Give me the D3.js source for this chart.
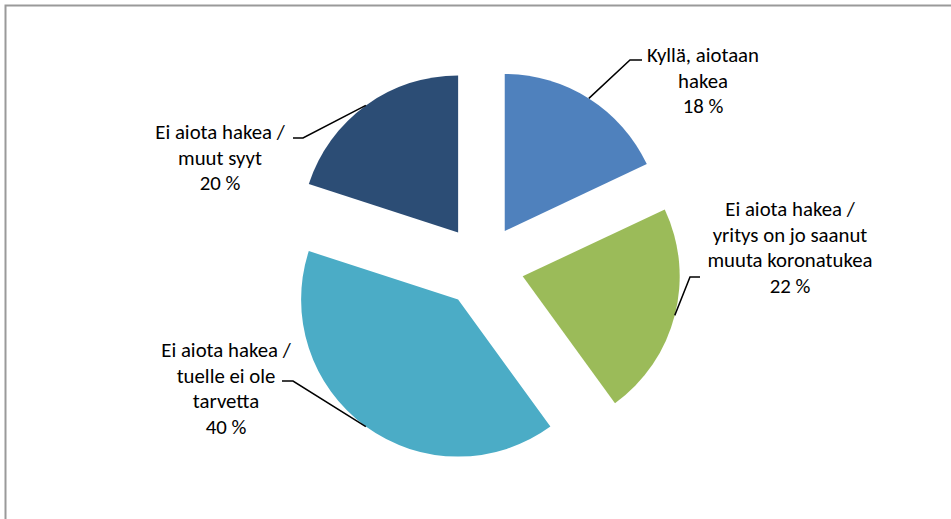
<!DOCTYPE html>
<html>
<head>
<meta charset="utf-8">
<script src="https://cdn.jsdelivr.net/npm/d3@7"></script>
<style>
  body { margin: 0; background: #fff; }
  text { font-family: Carlito, Calibri, Lato, sans-serif; fill: #000; }
</style>
</head>
<body>
<div id="chart"></div>
<script>
// data
var categories = [
  ["Kyllä, aiotaan", "hakea"],
  ["Ei aiota hakea /", "yritys on jo saanut", "muuta koronatukea"],
  ["Ei aiota hakea /", "tuelle ei ole", "tarvetta"],
  ["Ei aiota hakea /", "muut syyt"]
];
var values = [18, 22, 40, 20];
var colors = ["#4F81BD", "#9BBB59", "#4BACC6", "#2C4D75"];

// label layout: centre x, first baseline, elbow of leader, end of leader
var labelPos = [
  {x: 703, y: 62,  elbow: [630, 60],  end: [642, 60]},
  {x: 790, y: 216, elbow: [690, 277], end: [700, 277]},
  {x: 226, y: 357, elbow: [293, 381], end: [282, 381]},
  {x: 220, y: 139, elbow: [303, 138], end: [293, 138]}
];

var width = 951, height = 519;
var cx = 482.5, cy = 266, radius = 157, explode = 41.5;
var lineH = 25.5;

var svg = d3.select("#chart").append("svg")
    .attr("width", width)
    .attr("height", height);

// chart border
svg.append("rect")
    .attr("x", 5.5).attr("y", 5.5)
    .attr("width", 980).attr("height", 540)
    .attr("fill", "none")
    .attr("stroke", "#9a9a9a")
    .attr("stroke-width", 2);

var pie = d3.pie().sort(null).value(function(d) { return d; });
var arcs = pie(values);

var arc = d3.arc().innerRadius(0).outerRadius(radius);

var g = svg.append("g")
    .attr("transform", "translate(" + cx + "," + cy + ")");

function offset(d, r) {
  var a = (d.startAngle + d.endAngle) / 2;
  return [Math.sin(a) * r, -Math.cos(a) * r];
}

g.selectAll(".slice")
  .data(arcs)
  .enter().append("path")
    .attr("class", "slice")
    .attr("fill", function(d, i) { return colors[i]; })
    .attr("transform", function(d) {
      var o = offset(d, explode);
      return "translate(" + o[0] + "," + o[1] + ")";
    })
    .attr("d", arc);

// leader lines
svg.selectAll(".leader")
  .data(arcs)
  .enter().append("polyline")
    .attr("class", "leader")
    .attr("fill", "none")
    .attr("stroke", "#000")
    .attr("stroke-width", 1.5)
    .attr("points", function(d, i) {
      var o = offset(d, explode + radius);
      var p = labelPos[i];
      return [[cx + o[0], cy + o[1]], p.elbow, p.end].map(function(q) { return q.join(","); }).join(" ");
    });

// labels
var lbl = svg.selectAll(".label")
  .data(arcs)
  .enter().append("text")
    .attr("class", "label")
    .attr("text-anchor", "middle")
    .style("font-size", "20.8px");

lbl.each(function(d, i) {
  var t = d3.select(this);
  var lines = categories[i].concat([values[i] + " %"]);
  lines.forEach(function(s, k) {
    t.append("tspan")
      .attr("x", labelPos[i].x)
      .attr("y", labelPos[i].y + k * lineH)
      .text(s);
  });
});
</script>
</body>
</html>
